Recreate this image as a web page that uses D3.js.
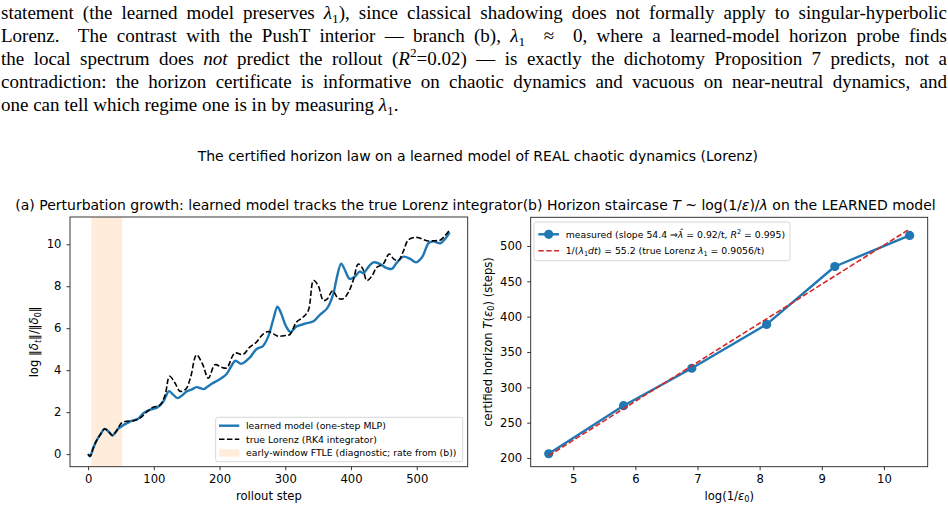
<!DOCTYPE html>
<html><head><meta charset="utf-8">
<script src="https://cdn.jsdelivr.net/npm/d3@7"></script>
<style>
body{margin:0;background:#fff;}
svg{display:block;}
text{white-space:pre;}
</style></head><body>
<svg id="c" width="948" height="511"></svg>
<script>
// ---------------- data ----------------
const learnedStep=[0,3,8,13,19,25,31,37,42,46,53,60,66,76,84,94,106,114,119,123,129,136,143,150,157,165,170,176,182,188,199,211,218,224,233,246,256,266,274,282,288,291,295,301,308,317,333,343,353,363,373,378,385,391,398,406,413,419,426,434,444,454,462,470,480,490,499,508,518,525,536,543,550];
const learnedVal=[0.0,-0.1,0.3,0.65,0.95,1.2,1.08,0.89,1.05,1.21,1.37,1.48,1.58,1.68,1.95,2.11,2.24,2.48,2.8,3.0,2.85,2.67,2.8,2.99,3.07,3.19,3.15,3.1,3.22,3.35,3.54,3.83,4.2,4.45,4.3,4.6,5.0,5.15,5.6,6.45,7.03,6.9,6.6,6.1,5.82,6.08,6.24,6.33,6.65,6.92,7.63,8.35,9.08,8.75,8.35,8.46,8.7,8.62,8.9,9.14,9.06,8.87,8.83,9.14,9.41,9.3,9.14,9.38,10.05,10.14,10.05,10.25,10.57];
const trueStep=[0,3,8,13,19,25,31,37,42,46,51,58,71,81,89,99,109,117,124,132,140,149,156,165,174,183,193,203,211,223,236,246,256,264,274,282,289,300,307,317,327,335,343,350,358,364,372,380,388,396,404,411,418,424,432,439,449,458,465,472,480,487,500,515,528,536,543,550];
const trueVal=[0.0,-0.1,0.3,0.65,0.95,1.2,1.08,0.89,1.05,1.25,1.49,1.56,1.6,1.76,2.0,2.24,2.32,2.8,3.71,3.4,2.99,3.11,3.67,4.73,4.3,3.62,4.26,4.14,4.11,4.81,4.75,5.1,5.33,5.65,5.84,5.73,5.62,5.65,5.7,6.29,6.52,6.84,8.27,8.03,7.32,7.4,7.79,7.44,7.4,7.71,8.35,9.06,8.83,8.27,8.5,8.9,9.06,9.54,9.3,9.22,9.7,10.2,10.33,10.17,10.17,10.2,10.41,10.68];
const ftleWindow=[5,52];
const logInvEps=[4.605,5.809,6.908,8.112,9.210,10.414];
const horizon=[206,274,327,389,471,515];
const refX=[4.605,10.414];
const refY=[203.3,524.0];
const leftXTicks=[0,100,200,300,400,500];
const leftYTicks=[0,2,4,6,8,10];
const rightXTicks=[5,6,7,8,9,10];
const rightYTicks=[200,250,300,350,400,450,500];

// ---------------- helpers ----------------
const svg=d3.select('#c');
const SANS='DejaVu Sans';
const FT=14, FL=11.6, FK=11.6, FG=9.3;
function rich(sel,segs,fs){
  let shift=0;
  segs.forEach(s0=>{
    const s=(typeof s0==='string')?{t:s0}:s0;
    const ts=sel.append('tspan').text(s.t);
    let target=0;
    if(s.sub===1) target=0.24*fs;
    if(s.sup===1) target=-0.4*fs;
    if(target!==shift) ts.attr('dy',target-shift);
    shift=target;
    if(s.sub===1||s.sup===1) ts.attr('font-size',fs*0.7);
    if(s.i===1) ts.attr('font-style','italic');
  });
  return sel;
}

// ---------------- paper text ----------------
const paper=[
 ["statement (the learned model preserves ",{t:"λ",i:1},{t:"1",sub:1},"), since classical shadowing does not formally apply to singular-hyperbolic"],
 ["Lorenz.  The contrast with the PushT interior — branch (b), ",{t:"λ",i:1},{t:"1",sub:1},"  ≈  0, where a learned-model horizon probe finds"],
 ["the local spectrum does ",{t:"not",i:1}," predict the rollout (",{t:"R",i:1},{t:"2",sup:1},"=0.02) — is exactly the dichotomy Proposition 7 predicts, not a"],
 ["contradiction: the horizon certificate is informative on chaotic dynamics and vacuous on near-neutral dynamics, and"],
 ["one can tell which regime one is in by measuring ",{t:"λ",i:1},{t:"1",sub:1},"."]
];
const paperBase=[18.5,41.5,64.5,87.5,110.5];
paper.forEach((segs,k)=>{
  const tx=svg.append('text').attr('x',1).attr('y',paperBase[k])
    .attr('font-family','Liberation Serif').attr('font-size',19).attr('fill','#000');
  rich(tx,segs,19);
  if(k<paper.length-1){
    const w=tx.node().getComputedTextLength();
    const full=segs.map(s=>typeof s==='string'?s:s.t).join('');
    const n=(full.match(/ /g)||[]).length;
    tx.style('word-spacing',((946-w)/n)+'px');
  }
});

// ---------------- suptitle ----------------
svg.append('text').attr('x',477.8).attr('y',161).attr('text-anchor','middle')
  .attr('font-family',SANS).attr('font-size',FT).attr('fill','#000')
  .text('The certified horizon law on a learned model of REAL chaotic dynamics (Lorenz)');

function axes(g,x,y,box,xt,yt){
  const ax=g.append('g').attr('transform',`translate(0,${box.b})`)
    .call(d3.axisBottom(x).tickValues(xt).tickSize(3.5).tickPadding(4.5).tickFormat(d3.format('d')));
  const ay=g.append('g').attr('transform',`translate(${box.l},0)`)
    .call(d3.axisLeft(y).tickValues(yt).tickSize(3.5).tickPadding(5).tickFormat(d3.format('d')));
  [ax,ay].forEach(a=>{
    a.select('.domain').remove();
    a.selectAll('text').attr('font-family',SANS).attr('font-size',FK).attr('fill','#000');
    a.selectAll('line').attr('stroke','#222').attr('stroke-width',0.9);
  });
  g.append('rect').attr('x',box.l).attr('y',box.t).attr('width',box.r-box.l).attr('height',box.b-box.t)
    .attr('fill','none').attr('stroke','#222').attr('stroke-width',0.9);
}

// ---------------- panel (a) ----------------
const A={l:70,r:467.7,t:217,b:466.7};
const xa=d3.scaleLinear().domain([-27.5,577.5]).range([A.l,A.r]);
const ya=d3.scaleLinear().domain([-0.6,11.3]).range([A.b,A.t]);
const ga=svg.append('g');
ga.append('rect').attr('x',xa(ftleWindow[0])).attr('y',A.t)
  .attr('width',xa(ftleWindow[1])-xa(ftleWindow[0])).attr('height',A.b-A.t)
  .attr('fill','#ff7f0e').attr('fill-opacity',0.15);
const lineA=d3.line().curve(d3.curveCatmullRom.alpha(0.5)).x(d=>xa(d[0])).y(d=>ya(d[1]));
ga.append('path').datum(learnedStep.map((s,i)=>[s,learnedVal[i]])).attr('d',lineA)
  .attr('fill','none').attr('stroke','#1f77b4').attr('stroke-width',2.4).attr('stroke-linejoin','round');
ga.append('path').datum(trueStep.map((s,i)=>[s,trueVal[i]])).attr('d',lineA)
  .attr('fill','none').attr('stroke','#000').attr('stroke-width',1.6).attr('stroke-dasharray','5.5,2.4');
axes(ga,xa,ya,A,leftXTicks,leftYTicks);

ga.append('text').attr('x',(A.l+A.r)/2).attr('y',210).attr('text-anchor','middle')
  .attr('font-family',SANS).attr('font-size',FT).attr('fill','#000')
  .text('(a) Perturbation growth: learned model tracks the true Lorenz integrator');
ga.append('text').attr('x',(A.l+A.r)/2).attr('y',499.5).attr('text-anchor','middle')
  .attr('font-family',SANS).attr('font-size',FL).attr('fill','#000').text('rollout step');
rich(ga.append('text').attr('transform',`translate(38,${(A.t+A.b)/2}) rotate(-90)`).attr('text-anchor','middle')
  .attr('font-family',SANS).attr('font-size',FL).attr('fill','#000'),
  ['log ‖',{t:'δ',i:1},{t:'t',i:1,sub:1},'‖/‖',{t:'δ',i:1},{t:'0',sub:1},'‖'],FL);

// legend (a)
const la=ga.append('g');
la.append('rect').attr('x',215.7).attr('y',417.3).attr('width',247).attr('height',44.4).attr('rx',2)
  .attr('fill','#fff').attr('fill-opacity',0.8).attr('stroke','#cccccc').attr('stroke-width',0.8);
la.append('line').attr('x1',219).attr('x2',239.3).attr('y1',425.7).attr('y2',425.7).attr('stroke','#1f77b4').attr('stroke-width',2.4);
la.append('line').attr('x1',219).attr('x2',239.3).attr('y1',439.3).attr('y2',439.3).attr('stroke','#000').attr('stroke-width',1.6).attr('stroke-dasharray','5.5,2.4');
la.append('rect').attr('x',219).attr('y',449.3).attr('width',20.3).attr('height',7.4).attr('fill','#ff7f0e').attr('fill-opacity',0.15);
[['learned model (one-step MLP)',425.7],['true Lorenz (RK4 integrator)',439.3],['early-window FTLE (diagnostic; rate from (b))',453]].forEach(([t,yy])=>{
  la.append('text').attr('x',246).attr('y',yy).attr('dy','0.35em').attr('font-family',SANS).attr('font-size',FG).attr('fill','#000').text(t);
});

// ---------------- panel (b) ----------------
const B={l:530.7,r:927.7,t:217.3,b:466.7};
const xb=d3.scaleLinear().domain([4.315,10.705]).range([B.l,B.r]);
const yb=d3.scaleLinear().domain([187.7,540.6]).range([B.b,B.t]);
const gb=svg.append('g');
const lineB=d3.line().x(d=>xb(d[0])).y(d=>yb(d[1]));
gb.append('path').datum(logInvEps.map((x,i)=>[x,horizon[i]])).attr('d',lineB)
  .attr('fill','none').attr('stroke','#1f77b4').attr('stroke-width',2.4).attr('stroke-linejoin','round');
gb.selectAll('circle.m').data(logInvEps.map((x,i)=>[x,horizon[i]])).enter().append('circle')
  .attr('cx',d=>xb(d[0])).attr('cy',d=>yb(d[1])).attr('r',4.6).attr('fill','#1f77b4');
gb.append('path').datum(refX.map((x,i)=>[x,refY[i]])).attr('d',lineB)
  .attr('fill','none').attr('stroke','#d62728').attr('stroke-width',1.6).attr('stroke-dasharray','5.5,2.4');
axes(gb,xb,yb,B,rightXTicks,rightYTicks);

rich(gb.append('text').attr('x',(B.l+B.r)/2).attr('y',210).attr('text-anchor','middle')
  .attr('font-family',SANS).attr('font-size',FT).attr('fill','#000'),
  ['(b) Horizon staircase ',{t:'T',i:1},' ~ log(1/',{t:'ε',i:1},')/',{t:'λ',i:1},' on the LEARNED model'],FT);
rich(gb.append('text').attr('x',(B.l+B.r)/2).attr('y',499.5).attr('text-anchor','middle')
  .attr('font-family',SANS).attr('font-size',FL).attr('fill','#000'),
  ['log(1/',{t:'ε',i:1},{t:'0',sub:1},')'],FL);
rich(gb.append('text').attr('transform',`translate(491.5,${(B.t+B.b)/2}) rotate(-90)`).attr('text-anchor','middle')
  .attr('font-family',SANS).attr('font-size',FL).attr('fill','#000'),
  ['certified horizon ',{t:'T',i:1},'(',{t:'ε',i:1},{t:'0',sub:1},') (steps)'],FL);

// legend (b)
const lb=gb.append('g');
lb.append('rect').attr('x',534).attr('y',222).attr('width',256).attr('height',38.7).attr('rx',2)
  .attr('fill','#fff').attr('fill-opacity',0.8).attr('stroke','#cccccc').attr('stroke-width',0.8);
lb.append('line').attr('x1',538.3).attr('x2',559).attr('y1',234.3).attr('y2',234.3).attr('stroke','#1f77b4').attr('stroke-width',2.4);
lb.append('circle').attr('cx',548.7).attr('cy',234.3).attr('r',4.6).attr('fill','#1f77b4');
lb.append('line').attr('x1',538.3).attr('x2',559).attr('y1',250.7).attr('y2',250.7).attr('stroke','#d62728').attr('stroke-width',1.6).attr('stroke-dasharray','5.5,2.4');
rich(lb.append('text').attr('x',565.7).attr('y',237.7).attr('font-family',SANS).attr('font-size',FG).attr('fill','#000'),
  ['measured (slope 54.4 ⇒',{t:'λ̂',i:1},' = 0.92/t, ',{t:'R',i:1},{t:'2',sup:1},' = 0.995)'],FG);
rich(lb.append('text').attr('x',565.7).attr('y',254.1).attr('font-family',SANS).attr('font-size',FG).attr('fill','#000'),
  ['1/(',{t:'λ',i:1},{t:'1',sub:1},{t:'dt',i:1},') = 55.2 (true Lorenz ',{t:'λ',i:1},{t:'1',sub:1},' = 0.9056/t)'],FG);
</script>
</body></html>
